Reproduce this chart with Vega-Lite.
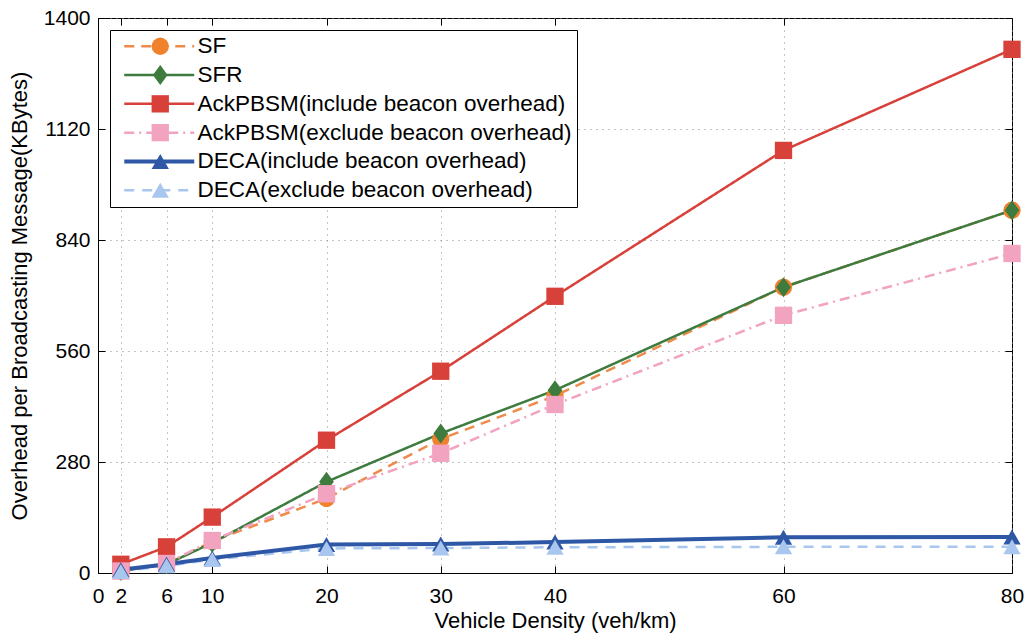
{
  "$schema": "https://vega.github.io/schema/vega-lite/v6.json",
  "width": 914,
  "height": 555,
  "autosize": "none",
  "padding": {"left": 98, "top": 18, "right": 16, "bottom": 63},
  "background": "white",
  "config": {
    "font": "Liberation Sans",
    "view": {"stroke": "black", "strokeWidth": 1},
    "axis": {
      "domainColor": "black",
      "tickColor": "black",
      "labelColor": "black",
      "titleColor": "black",
      "labelFont": "Liberation Sans",
      "titleFont": "Liberation Sans",
      "labelFontSize": 21,
      "titleFontSize": 22,
      "titleFontWeight": "normal",
      "gridColor": "#888888",
      "gridDash": [1, 5],
      "gridWidth": 1,
      "tickSize": -7
    }
  },
  "data": {
    "values": [
      {"x": 2, "y": 5, "series": "SF"},
      {"x": 6, "y": 22, "series": "SF"},
      {"x": 10, "y": 80, "series": "SF"},
      {"x": 20, "y": 188, "series": "SF"},
      {"x": 30, "y": 338, "series": "SF"},
      {"x": 40, "y": 447, "series": "SF"},
      {"x": 60, "y": 721, "series": "SF"},
      {"x": 80, "y": 915, "series": "SF"},
      {"x": 2, "y": 5, "series": "SFR"},
      {"x": 6, "y": 22, "series": "SFR"},
      {"x": 10, "y": 76, "series": "SFR"},
      {"x": 20, "y": 230, "series": "SFR"},
      {"x": 30, "y": 352, "series": "SFR"},
      {"x": 40, "y": 461, "series": "SFR"},
      {"x": 60, "y": 721, "series": "SFR"},
      {"x": 80, "y": 915, "series": "SFR"},
      {"x": 2, "y": 22, "series": "AckPBSM(include beacon overhead)"},
      {"x": 6, "y": 66, "series": "AckPBSM(include beacon overhead)"},
      {"x": 10, "y": 141, "series": "AckPBSM(include beacon overhead)"},
      {"x": 20, "y": 335, "series": "AckPBSM(include beacon overhead)"},
      {"x": 30, "y": 509, "series": "AckPBSM(include beacon overhead)"},
      {"x": 40, "y": 698, "series": "AckPBSM(include beacon overhead)"},
      {"x": 60, "y": 1066, "series": "AckPBSM(include beacon overhead)"},
      {"x": 80, "y": 1321, "series": "AckPBSM(include beacon overhead)"},
      {"x": 2, "y": 5, "series": "AckPBSM(exclude beacon overhead)"},
      {"x": 6, "y": 24, "series": "AckPBSM(exclude beacon overhead)"},
      {"x": 10, "y": 82, "series": "AckPBSM(exclude beacon overhead)"},
      {"x": 20, "y": 200, "series": "AckPBSM(exclude beacon overhead)"},
      {"x": 30, "y": 302, "series": "AckPBSM(exclude beacon overhead)"},
      {"x": 40, "y": 425, "series": "AckPBSM(exclude beacon overhead)"},
      {"x": 60, "y": 650, "series": "AckPBSM(exclude beacon overhead)"},
      {"x": 80, "y": 806, "series": "AckPBSM(exclude beacon overhead)"},
      {"x": 2, "y": 8, "series": "DECA(include beacon overhead)"},
      {"x": 6, "y": 22, "series": "DECA(include beacon overhead)"},
      {"x": 10, "y": 38, "series": "DECA(include beacon overhead)"},
      {"x": 20, "y": 72, "series": "DECA(include beacon overhead)"},
      {"x": 30, "y": 73, "series": "DECA(include beacon overhead)"},
      {"x": 40, "y": 78, "series": "DECA(include beacon overhead)"},
      {"x": 60, "y": 90, "series": "DECA(include beacon overhead)"},
      {"x": 80, "y": 91, "series": "DECA(include beacon overhead)"},
      {"x": 2, "y": 4, "series": "DECA(exclude beacon overhead)"},
      {"x": 6, "y": 18, "series": "DECA(exclude beacon overhead)"},
      {"x": 10, "y": 34, "series": "DECA(exclude beacon overhead)"},
      {"x": 20, "y": 62, "series": "DECA(exclude beacon overhead)"},
      {"x": 30, "y": 63, "series": "DECA(exclude beacon overhead)"},
      {"x": 40, "y": 65, "series": "DECA(exclude beacon overhead)"},
      {"x": 60, "y": 66, "series": "DECA(exclude beacon overhead)"},
      {"x": 80, "y": 66, "series": "DECA(exclude beacon overhead)"}
    ]
  },
  "resolve": {
    "axis": {"x": "independent", "y": "independent"},
    "scale": {"color": "independent", "strokeDash": "independent", "shape": "independent"},
    "legend": {"color": "independent", "strokeDash": "independent", "shape": "independent"}
  },
  "layer": [
    {
      "transform": [{"filter": "datum.series != 'DECA(include beacon overhead)'"}],
      "mark": {"type": "line", "strokeWidth": 2.5},
      "encoding": {
        "x": {
          "field": "x", "type": "quantitative",
          "scale": {"domain": [0, 80], "nice": false, "zero": false},
          "axis": {
            "orient": "bottom",
            "title": "Vehicle Density (veh/km)",
            "values": [0, 2, 6, 10, 20, 30, 40, 60, 80],
            "grid": true,
            "labelPadding": 19,
            "titlePadding": 4,
            "labelFlush": false,
            "labelOverlap": false
          }
        },
        "y": {
          "field": "y", "type": "quantitative",
          "scale": {"domain": [0, 1400], "nice": false},
          "axis": {
            "orient": "left",
            "title": "Overhead per Broadcasting Message(KBytes)",
            "values": [0, 280, 560, 840, 1120, 1400],
            "format": "d",
            "grid": true,
            "labelPadding": 15,
            "titlePadding": 12,
            "labelFlush": false,
            "labelOverlap": false
          }
        },
        "color": {
          "field": "series", "type": "nominal",
          "scale": {
            "domain": ["SF", "SFR", "AckPBSM(include beacon overhead)", "AckPBSM(exclude beacon overhead)", "DECA(include beacon overhead)", "DECA(exclude beacon overhead)"],
            "range": ["#EE8A4A", "#3E7B3E", "#D8403A", "#F2A3C0", "#2E58A6", "#A9C6EE"]
          },
          "legend": {
            "orient": "top-left",
            "offset": 12,
            "title": null,
            "padding": 5,
            "strokeColor": "black",
            "fillColor": "white",
            "labelFont": "Liberation Sans",
            "labelFontSize": 22.5,
            "labelColor": "black",
            "labelLimit": 600,
            "symbolType": "M-3.5,0H3.5",
            "symbolSize": 400,
            "symbolOffset": 33,
            "labelOffset": 27,
            "rowPadding": 5.8,
            "symbolStrokeWidth": 2.5,
            "encode": {
              "symbols": {
                "update": {
                  "strokeWidth": {"signal": "datum.value == 'DECA(include beacon overhead)' ? 4 : 2.5"}
                }
              }
            }
          }
        },
        "strokeDash": {
          "field": "series", "type": "nominal",
          "scale": {
            "domain": ["SF", "SFR", "AckPBSM(include beacon overhead)", "AckPBSM(exclude beacon overhead)", "DECA(include beacon overhead)", "DECA(exclude beacon overhead)"],
            "range": [[10, 7], [1, 0], [1, 0], [10, 5, 2, 5], [1, 0], [10, 8]]
          },
          "legend": {
            "orient": "top-left",
            "offset": 12,
            "title": null
          }
        }
      }
    },
    {
      "transform": [{"filter": "datum.series == 'DECA(include beacon overhead)'"}],
      "mark": {"type": "line", "strokeWidth": 4, "color": "#2E58A6"},
      "encoding": {
        "x": {"field": "x", "type": "quantitative", "axis": null},
        "y": {"field": "y", "type": "quantitative", "axis": null}
      }
    },
    {
      "mark": {"type": "point", "filled": true, "opacity": 1, "size": 300, "strokeWidth": 0},
      "encoding": {
        "x": {
          "field": "x", "type": "quantitative",
          "axis": {"orient": "top", "values": [0, 2, 6, 10, 20, 30, 40, 60, 80], "labels": false, "grid": false, "title": null, "domain": false}
        },
        "y": {
          "field": "y", "type": "quantitative",
          "axis": {"orient": "right", "values": [0, 280, 560, 840, 1120, 1400], "labels": false, "grid": false, "title": null, "domain": false}
        },
        "color": {
          "field": "series", "type": "nominal",
          "scale": {
            "domain": ["SF", "SFR", "AckPBSM(include beacon overhead)", "AckPBSM(exclude beacon overhead)", "DECA(include beacon overhead)", "DECA(exclude beacon overhead)"],
            "range": ["#F0822E", "#3E7B3E", "#D8403A", "#F2A3C0", "#2E58A6", "#A9C6EE"]
          },
          "legend": {
            "orient": "none",
            "legendX": 12,
            "legendY": 12,
            "title": null,
            "padding": 5,
            "labelFont": "Liberation Sans",
            "labelFontSize": 22.5,
            "labelExpr": "' '",
            "labelLimit": 600,
            "symbolSize": 300,
            "symbolOffset": 34,
            "labelOffset": 10,
            "rowPadding": 5.8,
            "symbolStrokeWidth": 0
          }
        },
        "shape": {
          "field": "series", "type": "nominal",
          "scale": {
            "domain": ["SF", "SFR", "AckPBSM(include beacon overhead)", "AckPBSM(exclude beacon overhead)", "DECA(include beacon overhead)", "DECA(exclude beacon overhead)"],
            "range": ["circle", "M0,-1.15L0.85,0L0,1.15L-0.85,0Z", "square", "square", "triangle-up", "triangle-up"]
          },
          "legend": {
            "orient": "none",
            "legendX": 12,
            "legendY": 12,
            "title": null,
            "padding": 5,
            "labelFont": "Liberation Sans",
            "labelFontSize": 22.5,
            "labelExpr": "' '",
            "labelLimit": 600,
            "symbolSize": 300,
            "symbolOffset": 34,
            "labelOffset": 10,
            "rowPadding": 5.8,
            "symbolStrokeWidth": 0
          }
        }
      }
    }
  ]
}
